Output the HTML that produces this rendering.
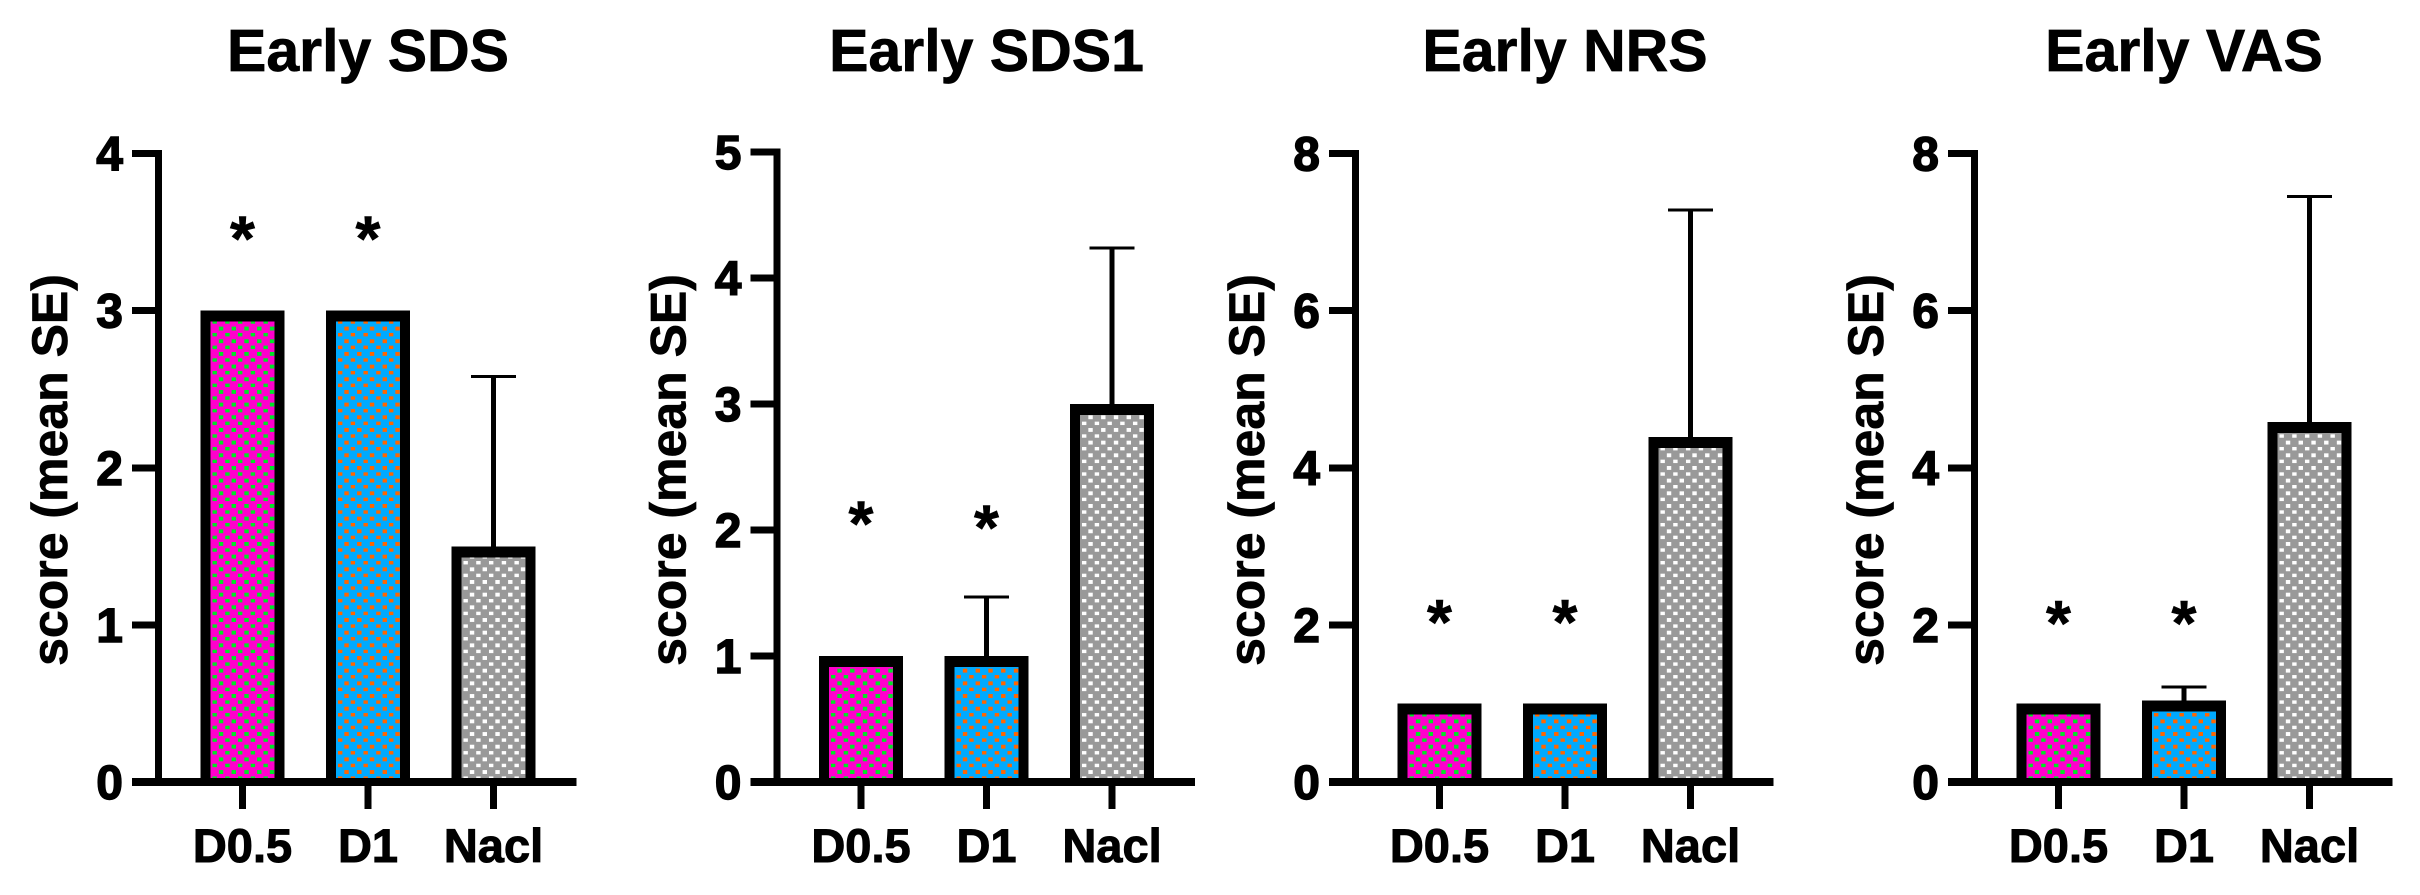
<!DOCTYPE html>
<html lang="en">
<head>
<meta charset="utf-8">
<title>Early score charts</title>
<style>
html,body{margin:0;padding:0;background:#fff;width:2420px;height:895px;overflow:hidden}
svg{display:block}
text{font-family:"Liberation Sans",Arial,sans-serif;font-weight:700;fill:#000;stroke:#000}
rect{shape-rendering:crispEdges}
</style>
</head>
<body>
<svg id="figure" xmlns="http://www.w3.org/2000/svg" width="2420" height="895" viewBox="0 0 2420 895"></svg>
<script>
const panelTitles = ['Early SDS', 'Early SDS1', 'Early NRS', 'Early VAS'];
const categories = ['D0.5', 'D1', 'Nacl'];
const sdsMeans = [3, 3, 1.5];
const sdsErrors = [0, 0, 1.08];
const sdsStars = [3.49, 3.49, null];
const sdsTicks = [0, 1, 2, 3, 4];
const sds1Means = [1, 1, 3];
const sds1Errors = [0, 0.47, 1.24];
const sds1Stars = [2.09, 2.06, null];
const sds1Ticks = [0, 1, 2, 3, 4, 5];
const nrsMeans = [1, 1, 4.39];
const nrsErrors = [0, 0, 2.89];
const nrsStars = [2.1, 2.1, null];
const nrsTicks = [0, 2, 4, 6, 8];
const vasMeans = [1, 1.04, 4.58];
const vasErrors = [0, 0.17, 2.87];
const vasStars = [2.09, 2.09, null];
const vasTicks = [0, 2, 4, 6, 8];
const allMeans = [sdsMeans, sds1Means, nrsMeans, vasMeans];
const allErrors = [sdsErrors, sds1Errors, nrsErrors, vasErrors];
const allStars = [sdsStars, sds1Stars, nrsStars, vasStars];
const allTicks = [sdsTicks, sds1Ticks, nrsTicks, vasTicks];

const svg = document.getElementById('figure');
const NS = 'http://www.w3.org/2000/svg';
function mk(tag, attrs, parent, txt) {
  const el = document.createElementNS(NS, tag);
  for (const k in attrs) el.setAttribute(k, attrs[k]);
  if (txt !== undefined) el.textContent = txt;
  parent.appendChild(el);
  return el;
}
const defs = mk('defs', {}, svg);
function pattern(id, x0, base, dot) {
  const p = mk('pattern', {id: id, patternUnits: 'userSpaceOnUse', x: x0, y: 319.8, width: 12.75, height: 12.67}, defs);
  mk('rect', {x: 0, y: 0, width: 12.75, height: 12.67, fill: base}, p);
  mk('rect', {x: 1.8, y: 0.4, width: 4.4, height: 3.7, fill: dot}, p);
  mk('rect', {x: 8.4, y: 6.6, width: 4.2, height: 4, fill: dot}, p);
}
const fills = [['#ff00cc', '#00e626'], ['#00aaff', '#ff6600'], ['#999999', '#ffffff']];
const panelAxisX = [158.5, 777, 1355.5, 1974.5];
const Y0 = 782, BAR_W = 84, STEP = 125.5, FIRST = 84, AXIS_LEN = 418;

panelTitles.forEach(function (title, p) {
  const ax = panelAxisX[p];
  const means = allMeans[p], errors = allErrors[p], stars = allStars[p], ticks = allTicks[p];
  const maxTick = ticks[ticks.length - 1];
  const yTop = p === 1 ? 152 : 153.5;
  const yScale = function (v) { return Y0 - v / maxTick * (Y0 - yTop); };
  const xScale = function (i) { return ax + FIRST + i * STEP; };

  const g = mk('g', {}, svg);
  
  

  const t = mk('text', {x: xScale(1), y: 71, 'text-anchor': 'middle', 'font-size': 59, 'stroke-width': 0.7}, g, title);
  
  

  const yt = mk('text', {transform: 'translate(' + (ax - 91.5) + ' 470) rotate(-90)', 'text-anchor': 'middle', 'font-size': 50, 'stroke-width': 0.7}, g, 'score (mean SE)');
  
  

  means.forEach(function (m, i) {
    const cx = xScale(i), top = yScale(m), left = cx - BAR_W / 2;
    const pid = 'fill-' + p + '-' + i;
    pattern(pid, left + 10, fills[i][0], fills[i][1]);
    if (errors[i] > 0) {
      const ey = yScale(m + errors[i]);
      const stem = mk('rect', {x: cx - 2.5, y: ey, width: 5, height: top - ey, fill: '#000'}, g);
      
      
      const cap = mk('rect', {x: cx - 22.5, y: ey - 1.5, width: 45, height: 3, fill: '#000'}, g);
      
      
    }
    const outer = mk('rect', {x: left, y: top, width: BAR_W, height: Y0 - top, fill: '#000'}, g);
    
    
    const inner = mk('rect', {x: left + 10, y: top + 11, width: BAR_W - 20, height: Math.max(0, Y0 - top - 11), fill: 'url(#' + pid + ')'}, g);
    
    
    if (stars[i] !== null) {
      const s = mk('text', {x: cx, y: yScale(stars[i]) + 27, 'text-anchor': 'middle', 'font-size': 64, 'stroke-width': 0.6}, g, '*');
      
      
    }
  });

  const yAxis = mk('rect', {x: ax - 3.5, y: yTop - 3.5, width: 7, height: Y0 - yTop + 3.5, fill: '#000'}, g);
  
  
  const xAxis = mk('rect', {x: ax - 26.5, y: Y0 - 4, width: AXIS_LEN + 26.5, height: 8, fill: '#000'}, g);
  
  

  ticks.forEach(function (v) {
    const y = yScale(v);
    const tk = mk('rect', {x: ax - 26.5, y: y - 3.5, width: 26.5, height: 7, fill: '#000'}, g);
    
    
    const lb = mk('text', {x: ax - 35.5, y: y + 17, 'text-anchor': 'end', 'font-size': 48, 'stroke-width': 1.4}, g, String(v));
    
    
  });

  categories.forEach(function (c, i) {
    const cx = xScale(i);
    const tk = mk('rect', {x: cx - 3.5, y: Y0 + 4, width: 7, height: 23, fill: '#000'}, g);
    
    
    const lb = mk('text', {x: cx, y: 862, 'text-anchor': 'middle', 'font-size': 47, 'stroke-width': 1}, g, c);
    
    
  });
});
</script>
</body>
</html>
